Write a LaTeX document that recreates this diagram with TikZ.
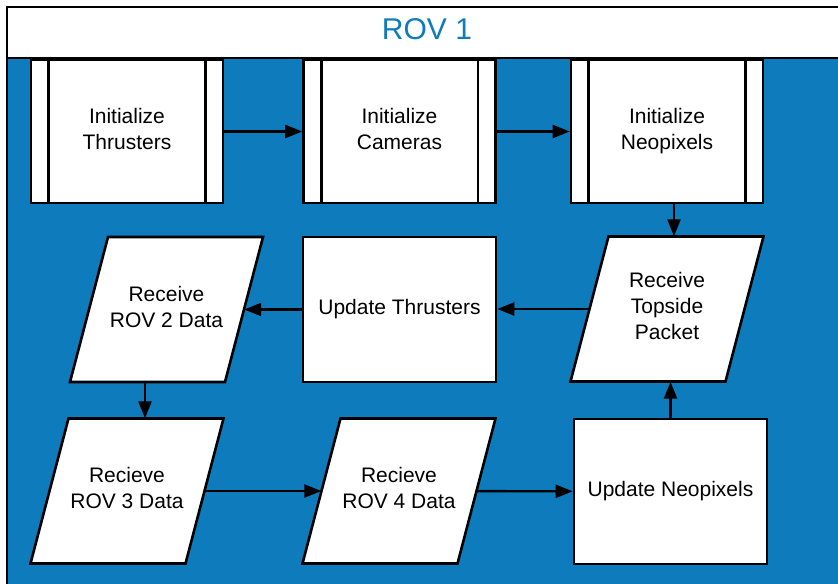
\documentclass[tikz,border=0pt]{standalone}
\usepackage{fontspec}
\setmainfont{Liberation Sans}
\usetikzlibrary{arrows.meta}
\definecolor{rovblue}{RGB}{14,123,189}
\newcommand\paranode[4]{%
  \filldraw[para] (#2-58.5,#3-72.5) -- (#2+96.5,#3-72.5) -- (#2+58.5,#3+72.5) -- (#2-96.5,#3+72.5) -- cycle;
  \node[paratext] (#1) at (#2,#3) {#4};}
\begin{document}
\begin{tikzpicture}[x=1bp,y=-1bp,
  txt/.style={align=center,font=\fontsize{21bp}{26bp}\selectfont,execute at end node={\rule[-6bp]{0pt}{6bp}}},
  box/.style={txt,draw=black,fill=white,line width=2.6bp,minimum width=193bp,minimum height=145bp,inner sep=0pt},
  procbox/.style={box,minimum width=192bp,minimum height=143bp},
  paratext/.style={txt,inner sep=0pt,minimum width=155bp,minimum height=145bp},
  para/.style={draw=black,fill=white,line width=2.6bp,line join=miter},
  bar/.style={line width=2.6bp},
  conn/.style={line width=2.4bp,-{Triangle[length=17bp,width=13bp]}}]
\useasboundingbox (0,0) rectangle (838,584);
\clip (0,0) rectangle (838,584);
\fill[white] (0,0) rectangle (838,584);
\fill[rovblue] (7,58) rectangle (850,600);
\draw[line width=2bp] (850,7) -- (7,7) -- (7,600);
\draw[line width=2.4bp] (7,58) -- (850,58);
\node[text=rovblue,font=\fontsize{30bp}{36bp}\selectfont,anchor=base,inner sep=0pt] (title) at (427,40) {ROV 1};

% predefined process boxes
\node[procbox] (it) at (127,131.5) {Initialize\\Thrusters};
\node[procbox] (ic) at (399.5,131.5) {Initialize\\Cameras};
\node[procbox] (in) at (667,131.5) {Initialize\\Neopixels};
\foreach \nn in {it,ic,in}{
  \draw[bar] ([xshift=19bp]\nn.north west) -- ([xshift=19bp]\nn.south west);
  \draw[bar] ([xshift=-19bp]\nn.north east) -- ([xshift=-19bp]\nn.south east);
}

% process rectangles
\node[box] (ut) at (399.5,309.5) {Update Thrusters};
\node[box] (un) at (670.5,491.5) {Update Neopixels};

% data parallelograms
\paranode{r2}{166.5}{309.5}{Receive\\ROV 2 Data}
\paranode{tp}{667}{309}{Receive\\Topside\\Packet}
\paranode{r3}{127}{491}{Recieve\\ROV 3 Data}
\paranode{r4}{399}{491}{Recieve\\ROV 4 Data}

% connectors
\draw[conn] (it) -- (ic);
\draw[conn] (ic) -- (in);
\draw[conn] ([xshift=7bp]in.south) -- ([xshift=7bp]in.south |- tp.north);
\draw[conn] (tp.west) -- (tp.west -| ut.east);
\draw[conn] (ut) -- (r2);
\draw[conn] ([xshift=-21.5bp]r2.south) -- ([xshift=-21.5bp]r2.south |- r3.north);
\draw[conn] (r3) -- (r4);
\draw[conn] (r4) -- (un);
\draw[conn] (un.north) -- (un.north |- tp.south);
\end{tikzpicture}
\end{document}
